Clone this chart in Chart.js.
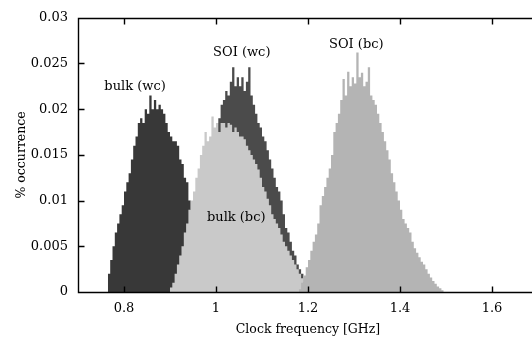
<!DOCTYPE html>
<html>
<head>
<meta charset="utf-8">
<script src="https://cdn.jsdelivr.net/npm/chart.js@4.4.1/dist/chart.umd.min.js"></script>
<style>
  html, body { margin: 0; padding: 0; background: #fff; overflow: hidden; }
  #wrap { width: 560px; height: 341px; }
</style>
</head>
<body>
<div id="wrap"><canvas id="freqChart" width="560" height="341"></canvas></div>
<script>
// histogram bins, 0.005 GHz wide, value holds from bin start to next bin
const binWidth = 0.005;

const bulkWcStart = 0.765;
const bulkWc = [0.002, 0.0035, 0.005, 0.0065, 0.0075, 0.0085, 0.0095, 0.011, 0.012, 0.013,
  0.0145, 0.016, 0.017, 0.0185, 0.019, 0.0185, 0.02, 0.0195, 0.0215, 0.02,
  0.021, 0.02, 0.0205, 0.02, 0.0195, 0.0185, 0.0175, 0.017, 0.0165, 0.0165,
  0.016, 0.0145, 0.014, 0.0125, 0.012, 0.01, 0.009, 0.007, 0.0055, 0.004,
  0.0025, 0.001];

const soiWcStart = 0.925;
const soiWc = [0.001, 0.002, 0.003, 0.004, 0.0055, 0.007, 0.008, 0.0095, 0.0105, 0.012,
  0.013, 0.0145, 0.0155, 0.0165, 0.0175, 0.0185, 0.019, 0.0205, 0.021, 0.022,
  0.0215, 0.023, 0.0246, 0.0225, 0.0235, 0.0225, 0.0235, 0.022, 0.023, 0.0246,
  0.0215, 0.0205, 0.0195, 0.0185, 0.018, 0.017, 0.0165, 0.0155, 0.0145, 0.0135,
  0.0125, 0.0115, 0.011, 0.01, 0.0085, 0.007, 0.0065, 0.0055, 0.0045, 0.004,
  0.003, 0.0025, 0.002, 0.001, 0.0005];

const bulkBcStart = 0.9;
const bulkBc = [0.0005, 0.001, 0.002, 0.003, 0.004, 0.005, 0.0065, 0.0075, 0.009, 0.01,
  0.011, 0.0125, 0.0135, 0.015, 0.016, 0.0175, 0.0165, 0.017, 0.0192, 0.018,
  0.0185, 0.0175, 0.0185, 0.0185, 0.018, 0.0185, 0.0183, 0.0175, 0.018, 0.0175,
  0.017, 0.017, 0.0167, 0.016, 0.0155, 0.015, 0.0145, 0.014, 0.0134, 0.0125,
  0.0115, 0.011, 0.0102, 0.0095, 0.0085, 0.008, 0.0075, 0.007, 0.0063, 0.0055,
  0.005, 0.0045, 0.004, 0.0035, 0.003, 0.0025, 0.002, 0.0015, 0.001, 0.0007,
  0.0003];

const soiBcStart = 1.18;
const soiBc = [0.0003, 0.001, 0.0018, 0.0027, 0.0035, 0.0045, 0.0055, 0.0063, 0.0075, 0.0095,
  0.0105, 0.0115, 0.0125, 0.0135, 0.015, 0.0175, 0.0185, 0.0195, 0.021, 0.0233,
  0.0215, 0.0241, 0.0225, 0.0235, 0.0228, 0.0262, 0.0235, 0.024, 0.0225, 0.023,
  0.0246, 0.0215, 0.021, 0.0205, 0.0195, 0.0185, 0.0175, 0.0165, 0.0155, 0.0145,
  0.013, 0.012, 0.011, 0.01, 0.009, 0.008, 0.0075, 0.007, 0.0065, 0.0055,
  0.0048, 0.0043, 0.0038, 0.0033, 0.003, 0.0025, 0.002, 0.0016, 0.0012, 0.0009,
  0.0006, 0.0004, 0.0002];

const xTicks = [0.8, 1, 1.2, 1.4, 1.6];
const xTickLabels = ["0.8", "1", "1.2", "1.4", "1.6"];
const yTicks = [0, 0.005, 0.01, 0.015, 0.02, 0.025, 0.03];
const yTickLabels = ["0", "0.005", "0.01", "0.015", "0.02", "0.025", "0.03"];

const labelTexts = ["bulk (wc)", "SOI (wc)", "bulk (bc)", "SOI (bc)"];
const labelX = [0.824, 1.056, 1.044, 1.305];
const labelY = [0.0225, 0.0262, 0.0081, 0.0271];

const FONT = "'DejaVu Serif', serif";

function toPoints(start, values) {
  const pts = values.map((v, i) => ({ x: start + i * binWidth, y: v }));
  pts.push({ x: start + values.length * binWidth, y: 0 });
  return pts;
}

function histSet(label, start, values, color, order) {
  return {
    label: label,
    data: toPoints(start, values),
    stepped: true,
    fill: "origin",
    backgroundColor: color,
    borderColor: color,
    borderWidth: 0,
    pointRadius: 0,
    order: order
  };
}

// gnuplot-like frame with inward ticks, plus the curve labels
const framePlugin = {
  id: "frame",
  afterDatasetsDraw(chart) {
    const { ctx, chartArea: a, scales: { x, y } } = chart;
    const L = Math.round(a.left) + 0.5, R = Math.round(a.right) + 0.5;
    const T = Math.round(a.top) + 0.5, B = Math.round(a.bottom) + 0.5;
    ctx.save();
    ctx.strokeStyle = "#000";
    ctx.lineWidth = 1.4;
    ctx.beginPath();
    ctx.rect(L, T, R - L, B - T);
    xTicks.forEach(v => {
      const px = Math.round(x.getPixelForValue(v)) + 0.5;
      ctx.moveTo(px, B); ctx.lineTo(px, B - 6);
      ctx.moveTo(px, T); ctx.lineTo(px, T + 6);
    });
    yTicks.forEach(v => {
      const py = Math.round(y.getPixelForValue(v)) + 0.5;
      ctx.moveTo(L, py); ctx.lineTo(L + 6, py);
      ctx.moveTo(R, py); ctx.lineTo(R - 6, py);
    });
    ctx.stroke();

    ctx.fillStyle = "#000";
    ctx.font = "13px " + FONT;
    ctx.textAlign = "center";
    ctx.textBaseline = "middle";
    labelTexts.forEach((t, i) => {
      ctx.fillText(t, x.getPixelForValue(labelX[i]), y.getPixelForValue(labelY[i]));
    });
    ctx.restore();
  }
};

const ctx = document.getElementById("freqChart").getContext("2d");

new Chart(ctx, {
  type: "line",
  data: {
    datasets: [
      histSet("SOI (bc)", soiBcStart, soiBc, "#b4b4b4", 0),
      histSet("bulk (bc)", bulkBcStart, bulkBc, "#c9c9c9", 1),
      histSet("SOI (wc)", soiWcStart, soiWc, "#4b4b4b", 2),
      histSet("bulk (wc)", bulkWcStart, bulkWc, "#383838", 3)
    ]
  },
  plugins: [framePlugin],
  options: {
    responsive: false,
    animation: false,
    events: [],
    layout: { padding: { left: 0, right: 22, top: 13, bottom: 0 } },
    plugins: {
      legend: { display: false },
      tooltip: { enabled: false }
    },
    scales: {
      x: {
        type: "linear",
        min: 0.7,
        max: 1.7,
        grid: { display: false, drawTicks: false },
        border: { display: false },
        afterFit: s => { s.height = 49; },
        afterBuildTicks: s => { s.ticks = xTicks.map(v => ({ value: v })); },
        ticks: {
          padding: 9,
          color: "#000",
          font: { family: FONT, size: 13 },
          maxRotation: 0,
          callback: (v, i) => xTickLabels[i]
        },
        title: {
          display: true,
          text: "Clock frequency [GHz]",
          color: "#000",
          font: { family: FONT, size: 12.5 },
          padding: { top: 4, bottom: 4 }
        }
      },
      y: {
        min: 0,
        max: 0.03,
        grid: { display: false, drawTicks: false },
        border: { display: false },
        afterFit: s => { s.width = 78; },
        afterBuildTicks: s => { s.ticks = yTicks.map(v => ({ value: v })); },
        ticks: {
          padding: 10,
          color: "#000",
          font: { family: FONT, size: 13 },
          callback: (v, i) => yTickLabels[i]
        },
        title: {
          display: true,
          text: "% occurrence",
          color: "#000",
          font: { family: FONT, size: 12.5 },
          padding: { top: 14, bottom: 4 }
        }
      }
    }
  }
});
</script>
</body>
</html>
